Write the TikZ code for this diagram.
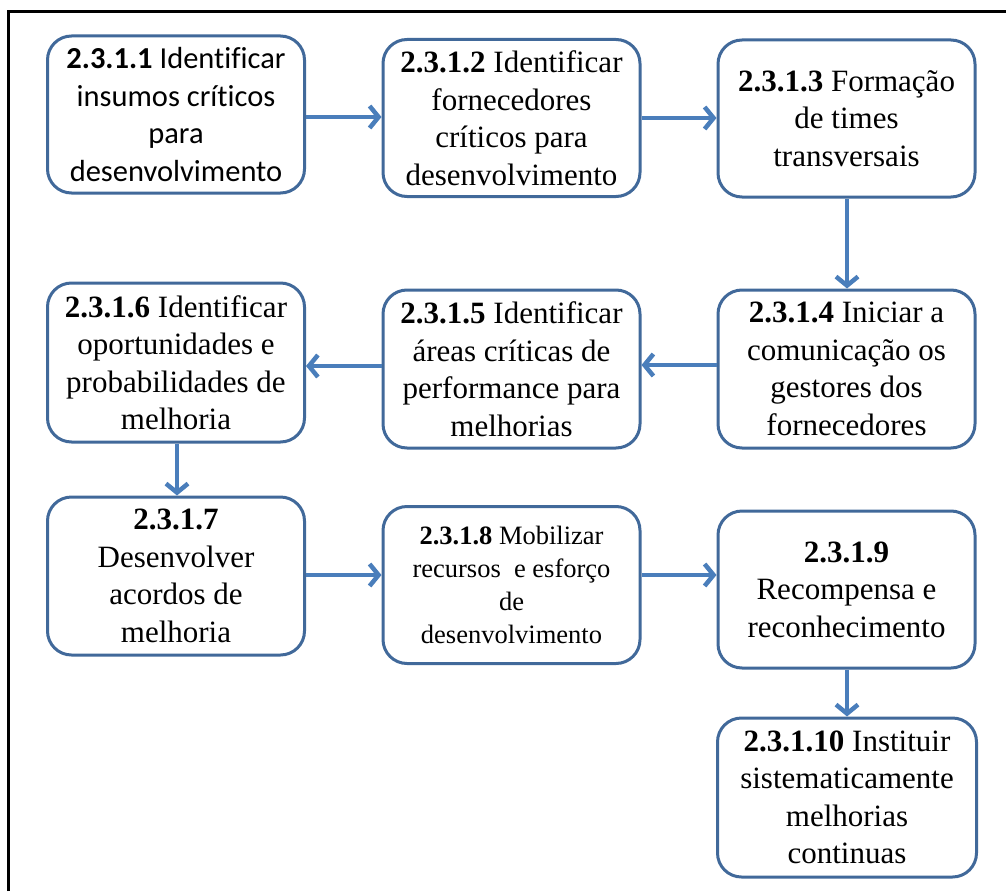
\documentclass[tikz,border=0pt]{standalone}
\usepackage{fontspec}
\setmainfont{Liberation Serif}
\newfontfamily\calfont[Ligatures=NoCommon]{Carlito}
\usetikzlibrary{arrows.meta}
\definecolor{boxline}{HTML}{41699A}
\definecolor{arrowblue}{HTML}{4A7EBB}
\tikzset{
  stepbox/.style={draw=boxline, line width=3pt, rounded corners=24pt, fill=white,
    minimum width=257pt, minimum height=157pt, inner sep=2pt, align=center,
    font=\fontsize{31}{37.5}\selectfont},
  smallbox/.style={stepbox, font=\fontsize{26.5}{33}\selectfont},
  sansbox/.style={stepbox, font=\calfont\fontsize{30.5}{37.5}\selectfont},
  flow/.style={draw=arrowblue, line width=4.5pt,
    -{Straight Barb[length=9pt,width=22pt,line width=4.5pt]}}
}
\begin{document}
\begin{tikzpicture}[x=1pt,y=-1pt]
\useasboundingbox (0,0) rectangle (1006,891);
% outer frame
\draw[line width=3pt] (8.5,891) -- (8.5,11.5) -- (1006,11.5);

% first row
\node[sansbox] (b1) at (176,114.5) {\textbf{2.3.1.1} Identificar\\insumos críticos\\para\\desenvolvimento};
\node[stepbox] (b2) at (511.5,118) {\textbf{2.3.1.2} Identificar\\fornecedores\\críticos para\\desenvolvimento};
\node[stepbox] (b3) at (846.5,118.5) {\textbf{2.3.1.3} Formação\\de times\\transversais};

% second row
\node[stepbox, minimum height=158pt] (b4) at (846.5,369) {\textbf{2.3.1.4} Iniciar a\\comunicação os\\gestores dos\\fornecedores};
\node[stepbox, minimum height=158pt] (b5) at (511.5,369) {\textbf{2.3.1.5} Identificar\\áreas críticas de\\performance para\\melhorias};
\node[stepbox, minimum height=159pt] (b6) at (176,362.5) {\textbf{2.3.1.6} Identificar\\oportunidades e\\probabilidades de\\melhoria};

% third row
\node[stepbox, minimum height=158pt] (b7) at (176,576) {\textbf{2.3.1.7}\\Desenvolver\\acordos de\\melhoria};
\node[smallbox] (b8) at (511.5,585) {\textbf{2.3.1.8} Mobilizar\\recursos\ \ e esforço\\de\\desenvolvimento};
\node[stepbox] (b9) at (846.5,589.5) {\textbf{2.3.1.9}\\Recompensa e\\reconhecimento};
\node[stepbox, minimum width=259pt, minimum height=159pt] (b10) at (847,797.5) {\textbf{2.3.1.10} Instituir\\sistematicamente\\melhorias\\continuas};

% connectors
\draw[flow] (b1.east |- 0,117) -- (b2.west |- 0,117);
\draw[flow] (b2.east |- 0,118) -- (b3.west |- 0,118);
\draw[flow] (b3.south -| 847,0) -- (b4.north -| 847,0);
\draw[flow] (b4.west |- 0,365) -- (b5.east |- 0,365);
\draw[flow] (b5.west |- 0,366) -- (b6.east |- 0,366);
\draw[flow] (b6.south -| 177,0) -- (b7.north -| 177,0);
\draw[flow] (b7.east |- 0,575) -- (b8.west |- 0,575);
\draw[flow] (b8.east |- 0,575) -- (b9.west |- 0,575);
\draw[flow] (b9.south -| 847,0) -- (b10.north -| 847,0);
\end{tikzpicture}
\end{document}
